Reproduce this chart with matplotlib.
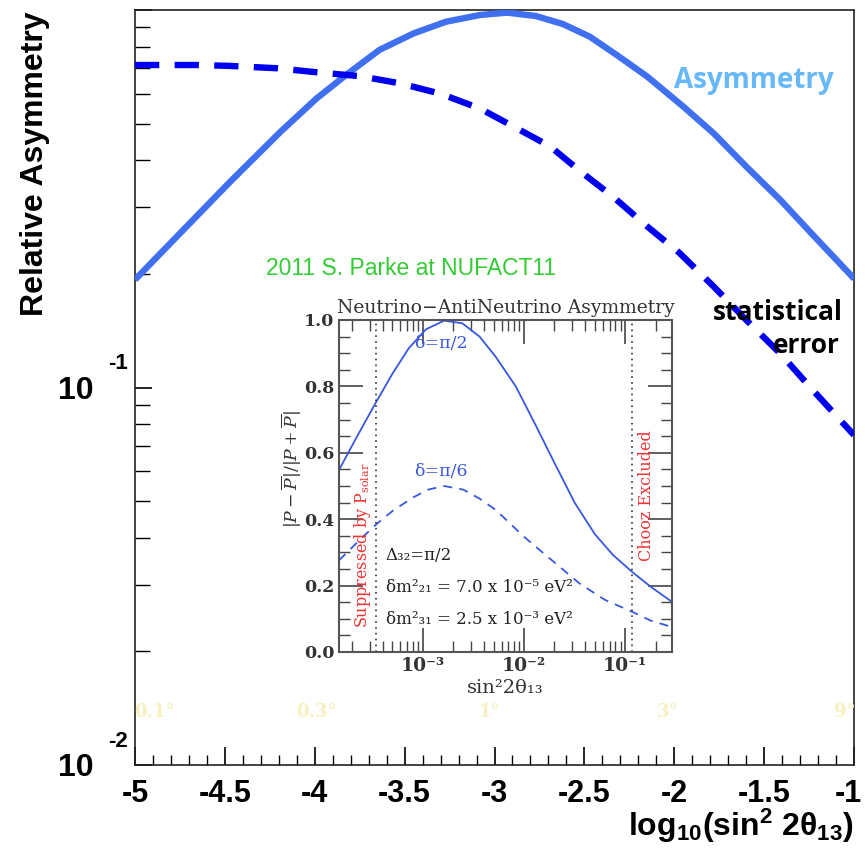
import numpy as np
import matplotlib
matplotlib.use("Agg")
import matplotlib.pyplot as plt
from matplotlib.ticker import MultipleLocator, FixedLocator, FixedFormatter, FuncFormatter, NullFormatter, LogLocator
from matplotlib.transforms import ScaledTranslation

plt.rcParams['mathtext.fontset'] = 'custom'
plt.rcParams['mathtext.rm'] = 'Liberation Sans'
plt.rcParams['mathtext.bf'] = 'Liberation Sans:bold'
plt.rcParams['mathtext.it'] = 'Liberation Sans:italic'
plt.rcParams['axes.unicode_minus'] = False

# ---- main plot data (x = log10(sin^2 2theta13)) ---------------------------
asym_x = [-5.0, -4.75, -4.47, -4.19, -3.99, -3.82, -3.64, -3.45, -3.27, -3.08,
          -2.93, -2.77, -2.62, -2.47, -2.32, -2.15, -1.95, -1.78, -1.60, -1.41,
          -1.23, -1.02, -1.0]
asym_y = [0.193, 0.256, 0.351, 0.476, 0.583, 0.676, 0.784, 0.867, 0.931, 0.970,
          0.984, 0.964, 0.918, 0.850, 0.760, 0.666, 0.555, 0.471, 0.385, 0.314,
          0.254, 0.199, 0.194]

err_x = [-5.0, -4.66, -4.47, -4.21, -3.99, -3.75, -3.53, -3.30, -3.08, -2.89,
         -2.69, -2.52, -2.34, -2.15, -1.97, -1.78, -1.60, -1.41, -1.23, -1.0]
err_y = [0.715, 0.715, 0.711, 0.701, 0.684, 0.668, 0.640, 0.600, 0.548, 0.490,
         0.435, 0.373, 0.320, 0.267, 0.227, 0.185, 0.151, 0.123, 0.0985, 0.0748]

angle_labels = ['0.1°', '0.3°', '1°', '3°', '9°']
angle_pos = [-4.89, -3.99, -3.03, -2.04, -1.05]

# ---- inset data (log10 of sin^2 2theta13) ---------------------------------
ins_pi2_x = [-3.83, -3.67, -3.47, -3.30, -3.14, -2.97, -2.79, -2.61, -2.44, -2.28,
             -2.08, -1.88, -1.70, -1.50, -1.30, -1.12, -0.93, -0.75, -0.537]
ins_pi2_y = [0.548, 0.639, 0.749, 0.839, 0.915, 0.972, 0.998, 0.990, 0.950, 0.889,
             0.799, 0.680, 0.570, 0.450, 0.355, 0.292, 0.241, 0.197, 0.151]
ins_pi6_x = [-3.83, -3.60, -3.46, -3.30, -3.10, -2.95, -2.79, -2.60, -2.44, -2.28,
             -2.0, -1.70, -1.45, -1.2, -0.93, -0.75, -0.537]
ins_pi6_y = [0.276, 0.345, 0.385, 0.425, 0.465, 0.489, 0.50, 0.489, 0.462, 0.428,
             0.347, 0.27, 0.206, 0.157, 0.121, 0.095, 0.075]
solar_line = 3.44e-4
chooz_line = 0.117

fig = plt.figure(figsize=(8.65, 8.5), dpi=100)
ax = fig.add_axes([135/865, 1-765/850, 719/865, 755/850])

ax.plot(asym_x, asym_y, color='#4070F0', lw=4.6, solid_capstyle='butt',
        solid_joinstyle='round', zorder=3)
ax.plot(err_x, err_y, color='#0000EE', lw=4.6, dashes=(3.8, 2.4),
        dash_capstyle='butt', zorder=3)

ax.set_yscale('log')
ax.set_xlim(-5, -1)
ax.set_ylim(0.01, 1.0)

ax.xaxis.set_major_locator(MultipleLocator(0.5))
ax.xaxis.set_minor_locator(MultipleLocator(0.1))
ax.xaxis.set_major_formatter(FuncFormatter(lambda v, p: f'{v:g}'))
ytick_major = [0.01, 0.1, 1.0]
ax.yaxis.set_major_locator(FixedLocator(ytick_major))
ax.yaxis.set_major_formatter(FixedFormatter(['10', '10', '']))
ax.yaxis.set_minor_locator(LogLocator(base=10, subs=np.arange(2, 10)))
ax.yaxis.set_minor_formatter(NullFormatter())

ax.tick_params(axis='x', which='major', direction='in', length=13, width=1.2, pad=10,
               labelsize=22, top=False)
ax.tick_params(axis='x', which='minor', direction='in', length=7, width=1.0, top=False)
ax.tick_params(axis='y', which='major', direction='in', length=12, width=1.2, pad=30,
               labelsize=23, right=False)
ax.tick_params(axis='y', which='minor', direction='in', length=11, width=1.0, right=False)
for lbl in ax.get_xticklabels() + ax.get_yticklabels():
    lbl.set_fontfamily('Liberation Sans')
    lbl.set_fontweight('bold')
for s in ax.spines.values():
    s.set_linewidth(1.2)
    s.set_color('#222222')

# ROOT style exponents next to the "10"
for v in ytick_major[:2]:
    ax.annotate(f'{int(round(np.log10(v)))}', xy=(0, v), xycoords=ax.get_yaxis_transform(),
                xytext=(-5, 17), textcoords='offset points', ha='right', va='center',
                fontsize=16, fontweight='bold', family='Liberation Sans')

fig.text(35/865, 1-164/850, 'Relative Asymmetry', rotation=90, ha='center', va='center',
         fontsize=23, fontweight='bold', family='Liberation Sans')
fig.text(854/865, 1-826/850, r'$\mathbf{log_{10}(sin^{2}\ 2\theta_{13})}$',
         ha='right', va='center', fontsize=23)

ax.text(0.86, 0.907, 'Asymmetry', transform=ax.transAxes, ha='center', va='center',
        color='#66B8F8', fontsize=20, fontweight='bold', family='Open Sans')
ax.text(0.985, 0.60, 'statistical', transform=ax.transAxes, ha='right', va='center',
        color='black', fontsize=19, fontweight='bold', family='Open Sans')
ax.text(0.98, 0.555, 'error', transform=ax.transAxes, ha='right', va='center',
        color='black', fontsize=19, fontweight='bold', family='Open Sans')
ax.text(0.384, 0.658, '2011 S. Parke at NUFACT11', transform=ax.transAxes,
        ha='center', va='center', color='#33CC33', fontsize=16.5, family='Liberation Sans')

for lab, xp in zip(angle_labels, angle_pos):
    ax.text(xp, 0.0138, lab, ha='center', va='center', color='#F6F1BE',
            fontsize=13, fontweight='bold', family='DejaVu Serif')

# ---- inset ----------------------------------------------------------------
ins = fig.add_axes([339/865, 1-652/850, 333/865, 332/850])
ins.plot(10**np.array(ins_pi2_x), ins_pi2_y, color='#3858DD', lw=1.3)
ins.plot(10**np.array(ins_pi6_x), ins_pi6_y, color='#3858DD', lw=1.3, dashes=(5, 4))
ins.axvline(solar_line, color='#333333', lw=1.2, ls=(0, (1, 2.5)))
ins.axvline(chooz_line, color='#333333', lw=1.2, ls=(0, (1, 2.5)))

ins.set_xscale('log')
ins.set_xlim(10**-3.83, 10**-0.537)
ins.set_ylim(0, 1.0)
ins.xaxis.set_major_locator(FixedLocator([1e-3, 1e-2, 1e-1]))
ins.xaxis.set_major_formatter(FixedFormatter(['10⁻³', '10⁻²', '10⁻¹']))
ins.xaxis.set_minor_locator(LogLocator(base=10, subs=np.arange(2, 10)))
ins.xaxis.set_minor_formatter(NullFormatter())
ins.yaxis.set_major_locator(MultipleLocator(0.2))
ins.yaxis.set_minor_locator(MultipleLocator(0.05))
ins.yaxis.set_major_formatter(FuncFormatter(lambda v, p: f'{v:.1f}'))
ins.tick_params(which='both', direction='in', top=True, right=True, colors='#444444',
                labelcolor='#333333', labelsize=12.5)
ins.tick_params(axis='x', which='major', labelsize=13.5)
ins.tick_params(which='major', length=17, width=1.2)
ins.tick_params(which='minor', length=8, width=1.0)
for lbl in ins.get_xticklabels() + ins.get_yticklabels():
    lbl.set_fontfamily('DejaVu Serif')
    lbl.set_fontweight('bold')
for s in ins.spines.values():
    s.set_linewidth(1.5)
    s.set_color('#555555')

ins.set_title('Neutrino\u2212AntiNeutrino Asymmetry', fontsize=13.5, family='DejaVu Serif',
              color='#333333', pad=5)
ins.set_xlabel('sin²2θ₁₃', fontsize=14, family='DejaVu Serif', color='#333333', labelpad=3)
ins.set_ylabel(r'$|P-\overline{P}|/|P+\overline{P}|$', fontsize=12.5, color='#333333',
               math_fontfamily='dejavuserif')
ins.yaxis.set_label_coords(-0.105, 0.55)

ins.text(10**-2.82, 0.93, 'δ=π/2', ha='center', va='center', color='#3858DD',
         fontsize=12.5, family='DejaVu Serif')
ins.text(10**-2.82, 0.545, 'δ=π/6', ha='center', va='center', color='#3858DD',
         fontsize=12.5, family='DejaVu Serif')
ins.text(10**-3.6, 0.32, r'Suppressed by P$_{\rm solar}$', rotation=90, ha='center',
         va='center', color='#EE3333', fontsize=11.5, family='DejaVu Serif',
         math_fontfamily='dejavuserif')
ins.text(10**-0.785, 0.472, 'Chooz Excluded', rotation=90, ha='center', va='center',
         color='#EE3333', fontsize=11.5, family='DejaVu Serif')
ins.text(10**-3.37, 0.29, 'Δ₃₂=π/2', ha='left', va='center', color='#222222',
         fontsize=12, family='DejaVu Serif')
ins.text(10**-3.37, 0.195, 'δm²₂₁ = 7.0 x 10⁻⁵ eV²', ha='left', va='center',
         color='#222222', fontsize=12, family='DejaVu Serif')
ins.text(10**-3.37, 0.097, 'δm²₃₁ = 2.5 x 10⁻³ eV²', ha='left', va='center',
         color='#222222', fontsize=12, family='DejaVu Serif')

# keep the "-1" x tick label inside the canvas
fig.canvas.draw()
for lbl in ax.get_xticklabels():
    if lbl.get_text() == '-1':
        lbl.set_transform(lbl.get_transform() + ScaledTranslation(-6/100, 0, fig.dpi_scale_trans))

fig.savefig('out.png', dpi=100)
